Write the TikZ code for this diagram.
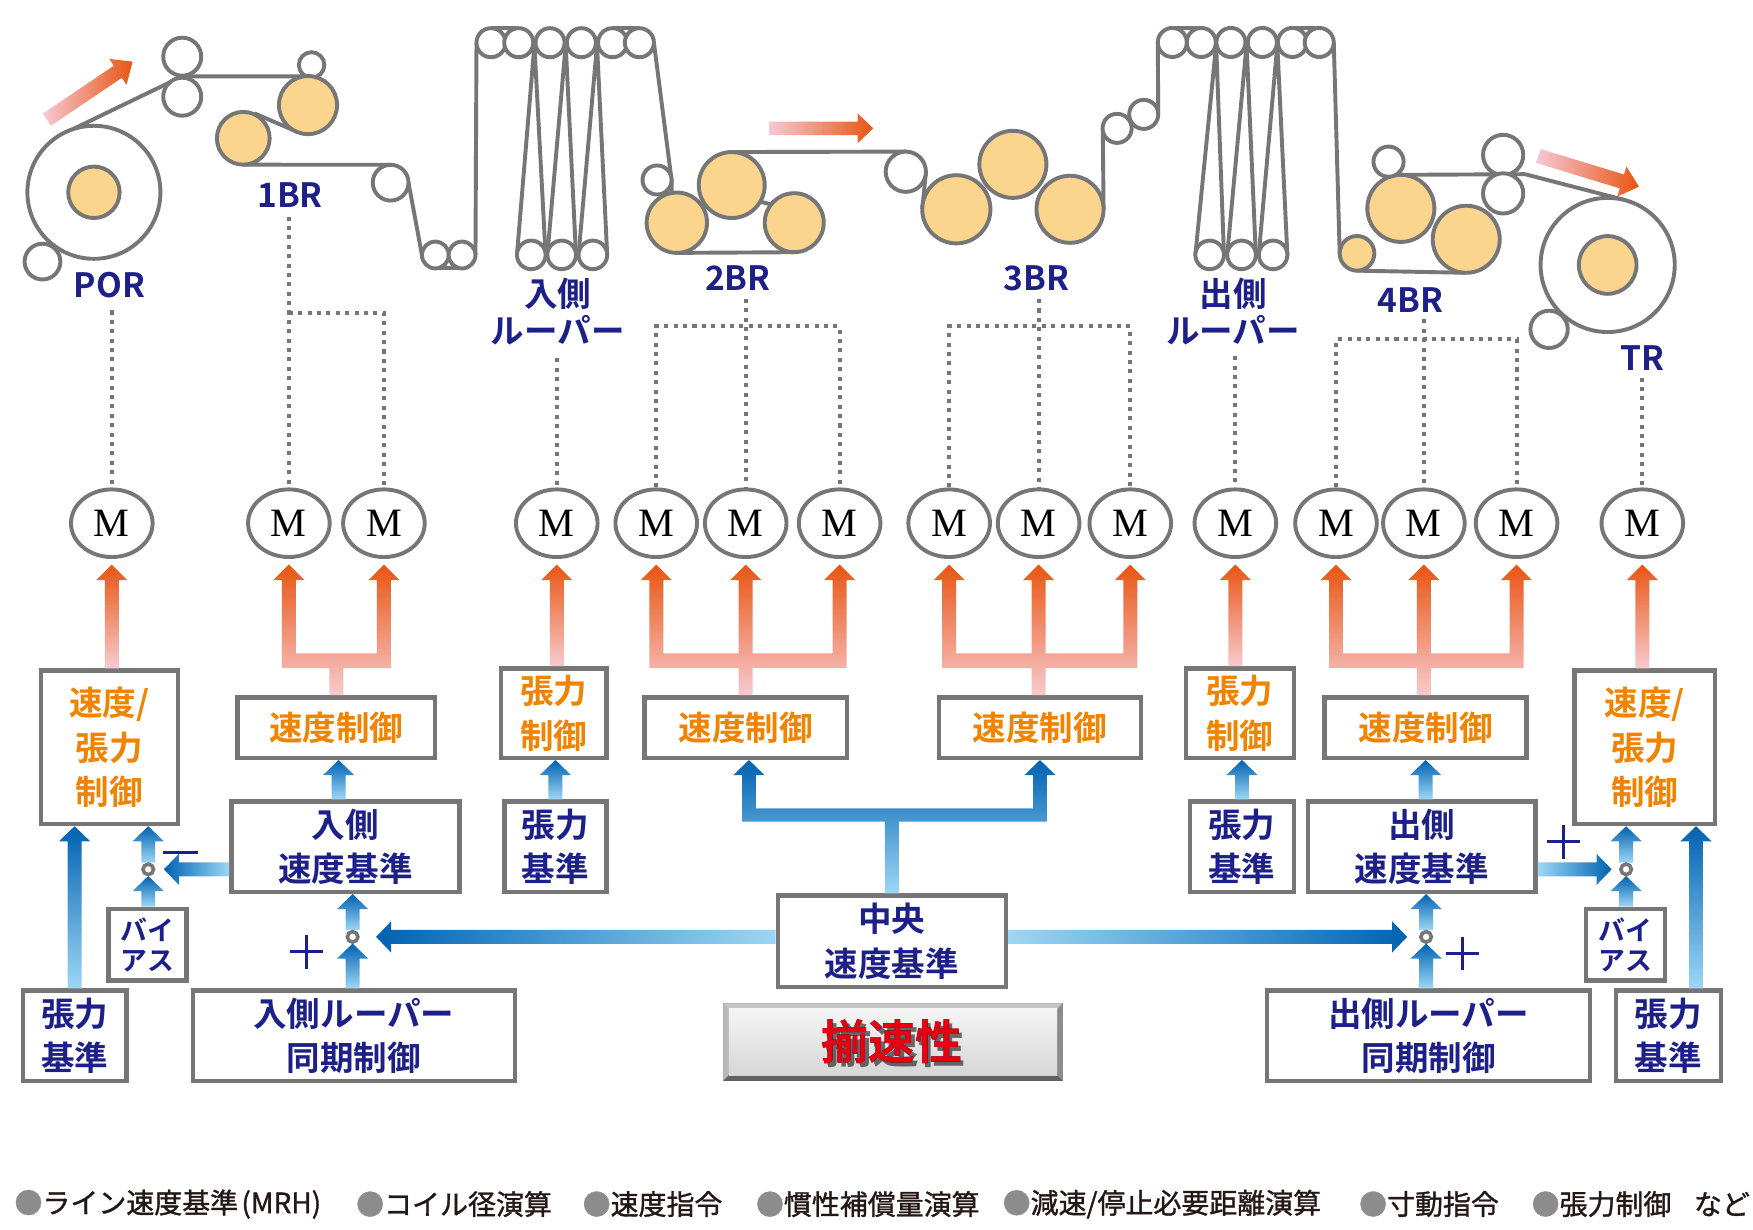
\documentclass[tikz,border=0pt]{standalone}
\usepackage{fontspec}
\setmainfont{Noto Sans CJK JP}[BoldFont=* Bold]
\newfontfamily\serifM{Liberation Serif}
\newfontfamily\legfont{Noto Sans CJK JP}[FakeBold=1.2]
\usepackage{pdfrender}
\usetikzlibrary{calc,shapes.geometric}
\definecolor{lgray}{HTML}{767676}
\definecolor{rollfill}{HTML}{FBD58E}
\definecolor{navy}{HTML}{1D2088}
\definecolor{otext}{HTML}{F08300}
\definecolor{oorange}{HTML}{E95513}
\definecolor{opink}{HTML}{F7CACF}
\definecolor{apink}{HTML}{F6C8D4}
\definecolor{bdark}{HTML}{0062B1}
\definecolor{blight}{HTML}{9DD7F6}
\definecolor{rtext}{HTML}{E60012}
\definecolor{legtext}{HTML}{231815}
\definecolor{bulgray}{HTML}{8C8C8C}
\definecolor{shadowgray}{HTML}{6A6A6A}
\def\bw{6.2pt}\def\bhw{14pt}\def\bhl{13.5pt}
\def\ow{6.25pt}\def\ohw{14pt}\def\ohl{14pt}
\newcommand{\bup}[2]{\shade[bottom color=blight, top color=bdark] let \p1=#1, \p2=#2 in
 (\x1-\bw,\y1) -- (\x1-\bw,\y2-\bhl) -- (\x1-\bhw,\y2-\bhl) -- (\x1,\y2) -- (\x1+\bhw,\y2-\bhl) -- (\x1+\bw,\y2-\bhl) -- (\x1+\bw,\y1) -- cycle;}
\newcommand{\bleft}[2]{\shade[left color=bdark, right color=blight] let \p1=#1, \p2=#2 in
 (\x1,\y2+\bw) -- (\x2+\bhl,\y2+\bw) -- (\x2+\bhl,\y2+\bhw) -- (\x2,\y2) -- (\x2+\bhl,\y2-\bhw) -- (\x2+\bhl,\y2-\bw) -- (\x1,\y2-\bw) -- cycle;}
\newcommand{\bright}[2]{\shade[left color=blight, right color=bdark] let \p1=#1, \p2=#2 in
 (\x1,\y2+\bw) -- (\x2-\bhl,\y2+\bw) -- (\x2-\bhl,\y2+\bhw) -- (\x2,\y2) -- (\x2-\bhl,\y2-\bhw) -- (\x2-\bhl,\y2-\bw) -- (\x1,\y2-\bw) -- cycle;}
\newcommand{\btree}[3]{\shade[bottom color=blight, top color=bdark] let \p1=#1, \p2=#2, \p3=#3 in
 (\x2-\bw,\y1+64pt) -- (\x2-\bw,\y2-\bhl) -- (\x2-\bhw,\y2-\bhl) -- (\x2,\y2) -- (\x2+\bhw,\y2-\bhl) -- (\x2+\bw,\y2-\bhl) -- (\x2+\bw,\y1+76pt)
 -- (\x3-\bw,\y1+76pt) -- (\x3-\bw,\y2-\bhl) -- (\x3-\bhw,\y2-\bhl) -- (\x3,\y2) -- (\x3+\bhw,\y2-\bhl) -- (\x3+\bw,\y2-\bhl) -- (\x3+\bw,\y1+64pt)
 -- (\x1+\bw,\y1+64pt) -- (\x1+\bw,\y1) -- (\x1-\bw,\y1) -- (\x1-\bw,\y1+64pt) -- cycle;}
\newcommand{\oone}[2]{\shade[bottom color=opink, top color=oorange] let \p1=#1, \p2=#2 in
 (\x1-\ow,\y1) -- (\x1-\ow,\y2-\ohl) -- (\x1-\ohw,\y2-\ohl) -- (\x1,\y2) -- (\x1+\ohw,\y2-\ohl) -- (\x1+\ow,\y2-\ohl) -- (\x1+\ow,\y1) -- cycle;}
\newcommand{\otwo}[3]{\shade[bottom color=opink, top color=oorange] let \p1=#1, \p2=#2, \p3=#3 in
 (\x2-\ow,\y2-92.5pt) -- (\x2-\ow,\y2-\ohl) -- (\x2-\ohw,\y2-\ohl) -- (\x2,\y2) -- (\x2+\ohw,\y2-\ohl) -- (\x2+\ow,\y2-\ohl) -- (\x2+\ow,\y2-79.5pt)
 -- (\x3-\ow,\y2-79.5pt) -- (\x3-\ow,\y2-\ohl) -- (\x3-\ohw,\y2-\ohl) -- (\x3,\y2) -- (\x3+\ohw,\y2-\ohl) -- (\x3+\ow,\y2-\ohl) -- (\x3+\ow,\y2-92.5pt)
 -- (\x1+\ow,\y2-92.5pt) -- (\x1+\ow,\y1) -- (\x1-\ow,\y1) -- (\x1-\ow,\y2-92.5pt) -- cycle;}
\newcommand{\othree}[4]{\shade[bottom color=opink, top color=oorange] let \p1=#1, \p2=#2, \p3=#3, \p4=#4 in
 (\x2-\ow,\y2-92.5pt) -- (\x2-\ow,\y2-\ohl) -- (\x2-\ohw,\y2-\ohl) -- (\x2,\y2) -- (\x2+\ohw,\y2-\ohl) -- (\x2+\ow,\y2-\ohl) -- (\x2+\ow,\y2-79.5pt)
 -- (\x3-\ow,\y2-79.5pt) -- (\x3-\ow,\y2-\ohl) -- (\x3-\ohw,\y2-\ohl) -- (\x3,\y2) -- (\x3+\ohw,\y2-\ohl) -- (\x3+\ow,\y2-\ohl) -- (\x3+\ow,\y2-79.5pt)
 -- (\x4-\ow,\y2-79.5pt) -- (\x4-\ow,\y2-\ohl) -- (\x4-\ohw,\y2-\ohl) -- (\x4,\y2) -- (\x4+\ohw,\y2-\ohl) -- (\x4+\ow,\y2-\ohl) -- (\x4+\ow,\y2-92.5pt)
 -- (\x3+\ow,\y2-92.5pt) -- (\x3+\ow,\y1) -- (\x3-\ow,\y1) -- (\x3-\ow,\y2-92.5pt) -- cycle;}
\begin{document}
\begin{tikzpicture}[x=1pt,y=-1pt,
 strip/.style={draw=lgray, line width=3.5pt, line join=round},
 roll/.style={draw=lgray, line width=3.5pt, fill=white},
 froll/.style={roll, fill=rollfill},
 dotl/.style={draw=lgray, line width=3.6pt, dash pattern=on 3.6pt off 4.8pt},
 lab/.style={text=navy, font=\bfseries\fontsize{30}{33}\selectfont, inner sep=0pt, align=center},
 mot/.style={ellipse, draw=lgray, line width=3.5pt, fill=white, minimum width=73, minimum height=60.5, inner sep=0pt, font=\serifM\fontsize{36}{36}\selectfont},
 box/.style={draw=lgray, line width=4pt, fill=white, inner sep=0pt, align=center, font=\bfseries\fontsize{30}{40}\selectfont},
 obox/.style={box, text=otext},
 nbox/.style={box, text=navy},
 junc/.style={circle, draw=lgray, line width=3.2pt, fill=white, minimum size=9.4, inner sep=0pt},
 signl/.style={draw=navy, line width=3pt},
 leg/.style={anchor=west, inner sep=0pt, text=legtext, font=\legfont\fontsize{25}{25}\selectfont}]
\useasboundingbox (0,0) rectangle (1568,1099.4);
\fill[white] (0,0) rectangle (1568,1099.4);

% ---------- strip ----------
\draw[strip] (57,119.5) -- (163,68.3) -- (275.5,68.3);
\draw[strip] (265.5,117.8) -- (227.6,101.4);
\draw[strip] (217.6,147.3) -- (349.4,147.4);
\draw[strip] (365.4,163.4) -- (377.4,228.1);
\draw[strip] (389.4,240.1) -- (413.3,240.1);
\draw[strip] (425.3,228.1) -- (426.2,38.2);
\draw[strip] (439.2,25.2) -- (464,25.2);
\draw[strip] (547.9,25.2) -- (571.9,25.2);
\foreach \a/\b in {478/475.2, 506/502.4, 534/530.3}
  \draw[strip] ({\b-12.8},228) -- (\a,40) -- ({\b+12.8},228);
\draw[strip] (584.9,38.2) -- (600.7,161) -- (600.7,172.6);
\draw[strip] (605.4,226.2) -- (710.4,225.6);
\draw[strip] (680,180.3) -- (690,183);
\draw[strip] (654.5,136) -- (810.2,135.6);
\draw[strip] (828.2,153.6) -- (825,187);
\draw[strip] (987.1,187.2) -- (986.4,114.8);
\draw[strip] (1036,102.3) -- (1035.6,38);
\draw[strip] (1048.6,25) -- (1074.5,25);
\draw[strip] (1156,25) -- (1180,25);
\foreach \a/\b in {1087.8/1082, 1115/1110.5, 1142.5/1138.7}
  \draw[strip] ({\b-12.8},228) -- (\a,40) -- ({\b+12.8},228);
\draw[strip] (1193,38) -- (1198.3,226.6);
\draw[strip] (1213.8,242.1) -- (1311.5,244);
\draw[strip] (1253,156.4) -- (1364,155.8) -- (1453.5,179);

% ---------- rolls ----------
\draw[roll] (84,172) circle (59.5);
\draw[froll] (84,172) circle (23);
\draw[roll] (38,234) circle (16);
\draw[roll] (163,50.7) circle (17);
\draw[roll] (163,86.5) circle (17);
\draw[roll] (278.7,58.1) circle (11.4);
\draw[froll] (275.5,94) circle (26);
\draw[froll] (217.6,123.7) circle (23.6);
\draw[roll] (349.4,163.4) circle (16);
\draw[roll] (389.4,228.1) circle (12);
\draw[roll] (413.3,228.1) circle (12);
\foreach \x in {439.2,464,492,520,547.9,571.9} \draw[roll] (\x,38.2) circle (13);
\foreach \x in {475.2,502.4,530.3} \draw[roll] (\x,228) circle (12.8);
\draw[roll] (587.7,161) circle (13);
\draw[froll] (605.4,199.2) circle (27);
\draw[froll] (654.5,165.5) circle (29.5);
\draw[froll] (710.4,199.2) circle (26.4);
\draw[roll] (810.2,153.6) circle (18);
\draw[froll] (855.4,187.2) circle (30.5);
\draw[froll] (906,147) circle (30);
\draw[froll] (957.1,187.2) circle (30);
\draw[roll] (999.2,114.8) circle (13);
\draw[roll] (1023,102.3) circle (13);
\foreach \x in {1048.6,1074.5,1101,1129.1,1156,1180} \draw[roll] (\x,38) circle (13);
\foreach \x in {1082,1110.5,1138.7} \draw[roll] (\x,228) circle (12.8);
\draw[froll] (1213.8,226.6) circle (15.5);
\draw[froll] (1253,186.4) circle (30);
\draw[froll] (1311.5,214) circle (30);
\draw[roll] (1242,144.6) circle (13.5);
\draw[roll] (1344.5,138.6) circle (18);
\draw[roll] (1344.5,173) circle (18);
\draw[roll] (1438,237) circle (60);
\draw[froll] (1438,237) circle (25.8);
\draw[roll] (1385.6,294.6) circle (16.7);

% ---------- flow arrows ----------
\shade[left color=apink, right color=oorange] (45.6,112.4) -- (109,69.6) -- (113.2,75.8) -- (118.6,55.2) -- (97.6,52.6) -- (101.8,58.8) -- (38.4,101.6) -- cycle;
\shade[left color=apink, right color=oorange] (688,108.8) -- (767,108.8) -- (767,101.3) -- (781,114.8) -- (767,128.3) -- (767,120.8) -- (688,120.8) -- cycle;
\shade[left color=apink, right color=oorange] (1374.1,145.7) -- (1448.8,168.5) -- (1446.6,175.7) -- (1466,167) -- (1454.8,148.9) -- (1452.6,156.1) -- (1377.9,133.3) -- cycle;

% ---------- labels ----------
\node[lab] (lPOR) at (97.8,255) {POR};
\node[lab] (l1BR) at (259.5,174.4) {1BR};
\node[lab] (lIN) at (499,278.5) {入側\\ルーパー};
\node[lab] (l2BR) at (660,249) {2BR};
\node[lab] (l3BR) at (927.3,249) {3BR};
\node[lab] (lOUT) at (1103,278.5) {出側\\ルーパー};
\node[lab] (l4BR) at (1261.6,268.4) {4BR};
\node[lab] (lTR) at (1469,320.5) {TR};

% ---------- motors ----------
\foreach \i/\x in {1/100,2/258.4,3/343.4,4/498,5/587,6/667,7/751,8/849,9/929,10/1011,11/1105,12/1195,13/1273.6,14/1356.5,15/1469}
  \node[mot] (m\i) at (\x,468) {M};

% ---------- dotted links ----------
\coordinate (d1BR) at (0,280);
\coordinate (d2BR) at (0,292);
\coordinate (d4BR) at (0,303.5);
\draw[dotl] ([yshift=-11pt]lPOR.south -| m1.north) -- (m1.north);
\draw[dotl] ([yshift=-8pt]l1BR.south -| m2.north) -- (m2.north);
\draw[dotl] (m2.north |- d1BR) -- (m3.north |- d1BR) -- (m3.north);
\draw[dotl] ([yshift=-12pt]lIN.south -| m4.north) -- (m4.north);
\draw[dotl] ([yshift=-7pt]l2BR.south -| m6.north) -- (m6.north);
\draw[dotl] (m5.north) -- (m5.north |- d2BR) -- (m7.north |- d2BR) -- (m7.north);
\draw[dotl] ([yshift=-7pt]l3BR.south -| m9.north) -- (m9.north);
\draw[dotl] (m8.north) -- (m8.north |- d2BR) -- (m10.north |- d2BR) -- (m10.north);
\draw[dotl] ([yshift=-10pt]lOUT.south -| m11.north) -- (m11.north);
\draw[dotl] ([yshift=-6pt]l4BR.south -| m13.north) -- (m13.north);
\draw[dotl] (m12.north) -- (m12.north |- d4BR) -- (m14.north |- d4BR) -- (m14.north);
\draw[dotl] ([yshift=-6pt]lTR.south -| m15.north) -- (m15.north);

% ---------- boxes ----------
\node[obox, minimum width=122.8, minimum height=137.3] (bA) at (97.9,668.4) {速度/\\張力\\制御};
\node[obox, minimum width=176.6, minimum height=54.1] (bB) at (300.9,650.8) {速度制御};
\node[obox, minimum width=94.5, minimum height=80] (bC) at (495.3,637.8) {張力\\制御};
\node[obox, minimum width=181, minimum height=54.1] (bD) at (666.9,650.8) {速度制御};
\node[obox, minimum width=181, minimum height=54.1] (bE) at (930.2,650.8) {速度制御};
\node[obox, minimum width=96.4, minimum height=80] (bF) at (1109.1,637.8) {張力\\制御};
\node[obox, minimum width=180.7, minimum height=54.1] (bG) at (1275.2,650.8) {速度制御};
\node[obox, minimum width=125.7, minimum height=137.3] (bH) at (1471.3,668.4) {速度/\\張力\\制御};

\node[nbox, minimum width=204, minimum height=80.7] (ir) at (309,757.4) {入側\\速度基準};
\node[nbox, minimum width=91.5, minimum height=80.7] (te) at (496.8,757.4) {張力\\基準};
\node[nbox, minimum width=93, minimum height=80.7] (tx) at (1110.9,757.4) {張力\\基準};
\node[nbox, minimum width=203.5, minimum height=80.7] (orr) at (1271.8,757.4) {出側\\速度基準};
\node[nbox, minimum width=204, minimum height=82] (cr) at (797.7,842) {中央\\速度基準};
\node[nbox, minimum width=70, minimum height=64, font=\bfseries\fontsize{24}{27}\selectfont] (bl) at (131.9,845) {バイ\\アス};
\node[nbox, minimum width=70.7, minimum height=64, font=\bfseries\fontsize{24}{27}\selectfont] (brt) at (1454,845) {バイ\\アス};
\node[nbox, minimum width=92.6, minimum height=81] (tbl) at (66.7,926.5) {張力\\基準};
\node[nbox, minimum width=288, minimum height=81] (ls) at (316.5,926.5) {入側ルーパー\\同期制御};
\node[nbox, minimum width=289, minimum height=81] (rs) at (1277.8,926.5) {出側ルーパー\\同期制御};
\node[nbox, minimum width=94, minimum height=81] (tbr) at (1492.3,926.5) {張力\\基準};

% junction positions
\coordinate (j1) at (132.6,777.6);
\coordinate (j2) at (315.4,838);
\coordinate (j3) at (1454.5,777.6);
\coordinate (j4) at (1275.6,838);

% ---------- orange arrows ----------
\oone{(bA.north -| m1)}{([yshift=-5pt]m1.south)}
\otwo{(bB.north)}{([yshift=-5pt]m2.south)}{([yshift=-5pt]m3.south)}
\oone{(bC.north -| m4)}{([yshift=-5pt]m4.south)}
\othree{(bD.north)}{([yshift=-5pt]m5.south)}{([yshift=-5pt]m6.south)}{([yshift=-5pt]m7.south)}
\othree{(bE.north)}{([yshift=-5pt]m8.south)}{([yshift=-5pt]m9.south)}{([yshift=-5pt]m10.south)}
\oone{(bF.north -| m11)}{([yshift=-5pt]m11.south)}
\othree{(bG.north)}{([yshift=-5pt]m12.south)}{([yshift=-5pt]m13.south)}{([yshift=-5pt]m14.south)}
\oone{(bH.north -| m15)}{([yshift=-5pt]m15.south)}

% ---------- blue arrows ----------
\bup{(tbl.north)}{(bA.south)}
\bup{(bl.north -| j1)}{([yshift=-6pt]j1)}
\bup{([yshift=6pt]j1)}{(bA.south)}
\bleft{(ir.west)}{([xshift=14pt]j1)}
\bup{([xshift=2pt]ir.north -| bB.south)}{(bB.south)}
\bup{(ls.north -| j2)}{([yshift=-6pt]j2)}
\bup{([yshift=6pt]j2)}{(ir.south)}
\bleft{(cr.west)}{([xshift=21pt]j2)}
\bup{(te.north)}{(bC.south)}
\btree{(cr.north)}{([xshift=3pt]bD.south)}{(bE.south)}
\bright{(cr.east)}{([xshift=-17pt]j4)}
\bup{(rs.north -| j4)}{([yshift=-6pt]j4)}
\bup{([yshift=6pt]j4)}{(orr.south)}
\bup{(orr.north -| bG.south)}{(bG.south)}
\bup{(tx.north)}{(bF.south)}
\bright{(orr.east)}{([xshift=-13pt]j3)}
\bup{(brt.north -| j3)}{([yshift=-6pt]j3)}
\bup{([yshift=6pt]j3)}{(bH.south)}
\bup{([xshift=24.7pt]tbr.north)}{(bH.south)}

% summing points
\node[junc] (sj1) at (j1) {};
\node[junc] (sj2) at (j2) {};
\node[junc] (sj3) at (j3) {};
\node[junc] (sj4) at (j4) {};

% signs
\draw[signl] (146,762.7) -- (177,762.7);
\draw[signl] (259,851.3) -- (289,851.3) (274,836.3) -- (274,866.3);
\draw[signl] (1293,852.8) -- (1323,852.8) (1308,837.8) -- (1308,867.8);
\draw[signl] (1383.5,752.9) -- (1413.5,752.9) (1398.5,737.9) -- (1398.5,767.9);

% ---------- button ----------
\fill[gray!75] (647,897.5) rectangle (950.6,966.7);
\fill[gray!45] (647,897.5) -- (950.6,897.5) -- (945.6,902.5) -- (652,902.5) -- cycle;
\fill[gray!55] (647,897.5) -- (652,902.5) -- (652,961.7) -- (647,966.7) -- cycle;
\fill[black!62] (647,966.7) -- (652,961.7) -- (945.6,961.7) -- (950.6,966.7) -- cycle;
\fill[gray!90] (950.6,897.5) -- (945.6,902.5) -- (945.6,961.7) -- (950.6,966.7) -- cycle;
\shade[top color=gray!8, middle color=gray!14, bottom color=gray!32] (652,902.5) rectangle (945.6,961.7);
\node[inner sep=0pt, opacity=0.55, font=\bfseries\fontsize{42}{42}\selectfont] (btnsh) at (801,935.5)
  {\textpdfrender{TextRenderingMode=FillStroke, LineWidth=8, LineJoin=1, StrokeColor=shadowgray, FillColor=shadowgray}{揃速性}};
\node[inner sep=0pt, font=\bfseries\fontsize{42}{42}\selectfont] (btnhalo) at (798.2,931.8)
  {\textpdfrender{TextRenderingMode=FillStroke, LineWidth=6.5, LineJoin=1, StrokeColor=white, FillColor=white}{揃速性}};
\node[inner sep=0pt, text=rtext, font=\bfseries\fontsize{42}{42}\selectfont] (btn) at (798.2,931.8) {揃速性};

% ---------- legend ----------
\node[leg] (leg1) at (12.8,1077) {{\color{bulgray}●}ライン速度基準\hspace{3pt}(MRH)};
\node[leg] (leg2) at (318.4,1077) {{\color{bulgray}●}コイル径演算};
\node[leg] (leg3) at (521,1077) {{\color{bulgray}●}速度指令};
\node[leg] (leg4) at (676,1077) {{\color{bulgray}●}慣性補償量演算};
\node[leg] (leg5) at (896.7,1077) {{\color{bulgray}●}減速/停止必要距離演算};
\node[leg] (leg6) at (1215.5,1077) {{\color{bulgray}●}寸動指令};
\node[leg] (leg7) at (1369.8,1077) {{\color{bulgray}●}張力制御};
\node[leg] (leg8) at (1515,1077) {など};
\end{tikzpicture}
\end{document}
